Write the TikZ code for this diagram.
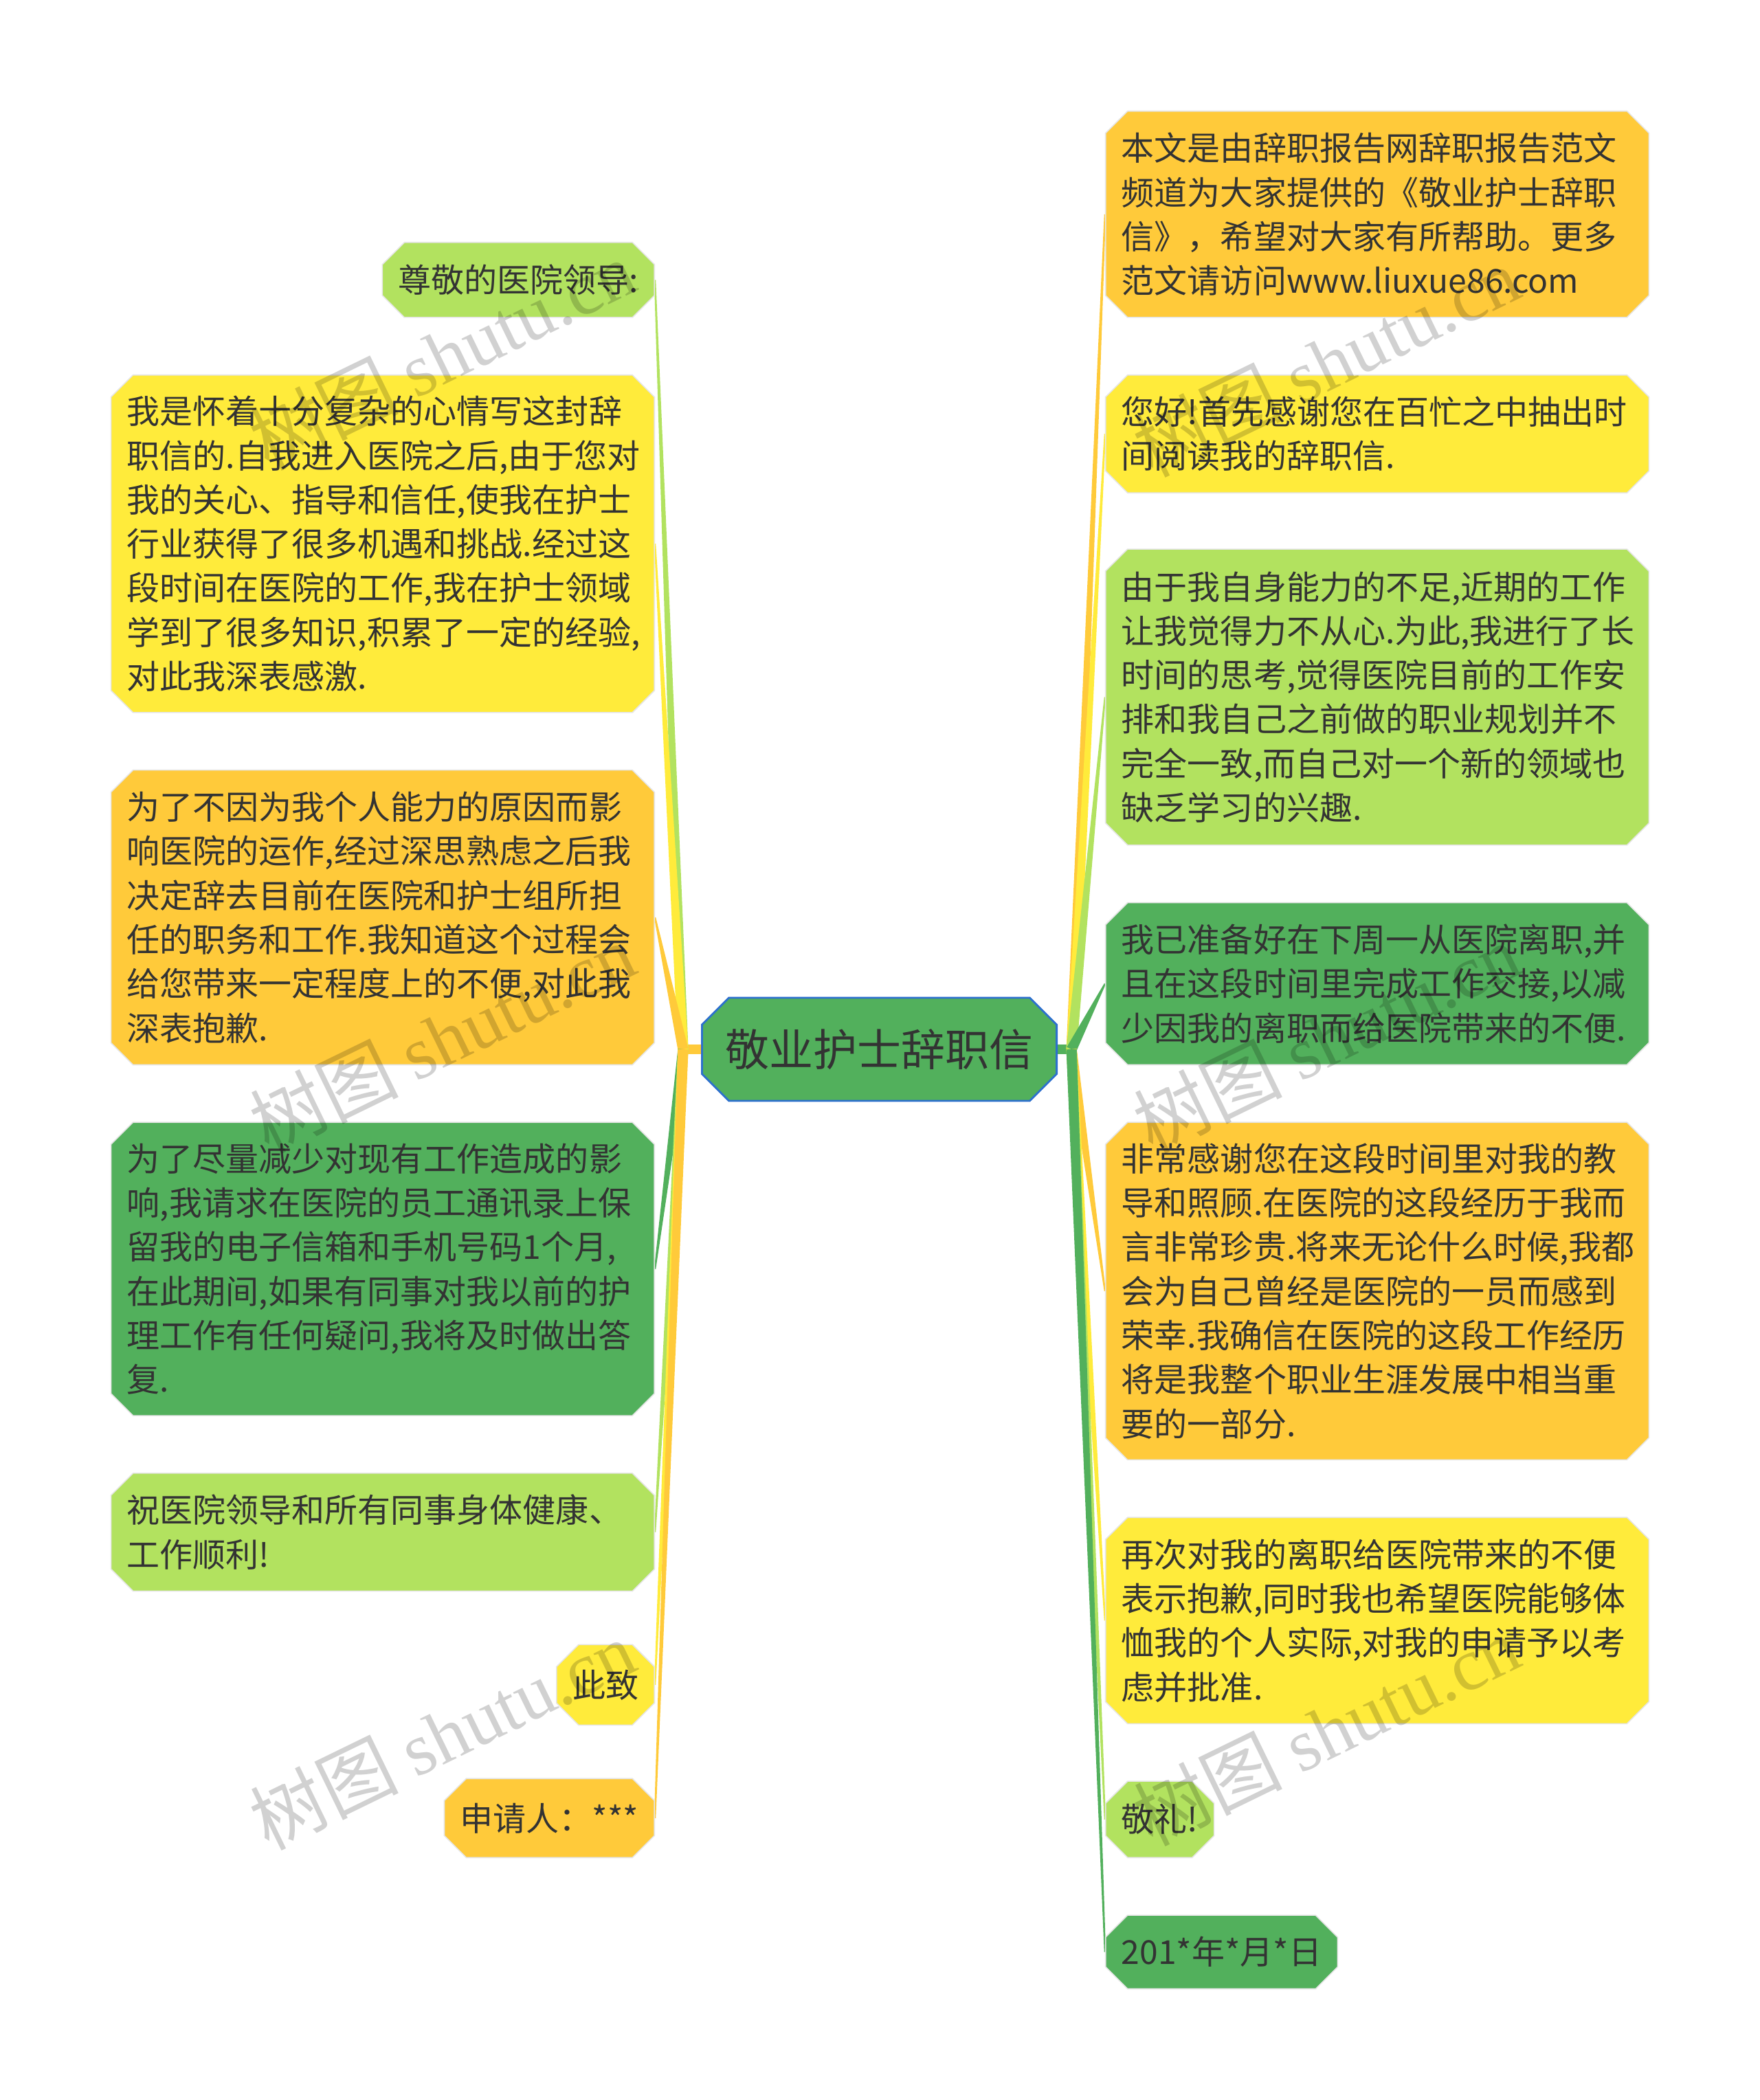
\documentclass[tikz,border=0pt]{standalone}
\usepackage{fontspec}
\setmainfont{Noto Sans CJK SC}
\newfontfamily\wmserif{Liberation Serif}
\usetikzlibrary{shapes.misc, calc, backgrounds}
\definecolor{leafgold}{RGB}{255, 202, 58}
\definecolor{leafyellow}{RGB}{255, 235, 59}
\definecolor{leaflime}{RGB}{178, 226, 95}
\definecolor{leafgreen}{RGB}{82, 176, 92}
\definecolor{hubblue}{RGB}{45, 112, 205}
\definecolor{inkgray}{RGB}{51, 51, 51}

% 渐细连线：颜色，起点，终点
\newcommand{\taper}[3]{%
  \fill[#1] ($(#2)!1.9pt!90:(#3)$) -- ($(#3)!0.3pt!-90:(#2)$)
    -- ($(#3)!0.3pt!90:(#2)$) -- ($(#2)!1.9pt!-90:(#3)$) -- cycle;}

\begin{document}
\begin{tikzpicture}[x=0.48706pt, y=-0.48706pt,
  leaf/.style={chamfered rectangle, chamfered rectangle xsep=4pt,
    chamfered rectangle ysep=4pt, draw=black!10, line width=0.4pt,
    text=inkgray, font=\fontsize{12}{16.07}\selectfont,
    inner xsep=1.8pt, inner ysep=2pt, align=left},
  wide/.style={text width=186pt},
  nh/.style={minimum height=#1*0.48706pt},
  hub/.style={chamfered rectangle, chamfered rectangle xsep=4.9pt,
    chamfered rectangle ysep=4.9pt, fill=leafgreen, draw=hubblue,
    line width=0.7pt, text=inkgray, font=\fontsize{16}{19}\selectfont,
    minimum width=129pt, minimum height=37.5pt},
  wmark/.style={rotate=26, text=black, text opacity=0.18,
    font=\fontsize{27}{30}\selectfont}]
  \useasboundingbox (0,0) rectangle (1314,1568);

  % 中心主题
  \node[hub] (hub) at (656.5,783.5) {敬业护士辞职信};
  \coordinate (lroot) at (510,783.5);
  \coordinate (rroot) at (800,783.5);

  % 左侧
  \node[leaf, fill=leaflime, nh=56, anchor=east] (l1) at (489,209) {尊敬的医院领导:};
  \node[leaf, fill=leafyellow, wide, nh=252, anchor=east] (l2) at (489,406)
    {我是怀着十分复杂的心情写这封辞\\职信的.自我进入医院之后,由于您对\\我的关心、指导和信任,使我在护士\\行业获得了很多机遇和挑战.经过这\\段时间在医院的工作,我在护士领域\\学到了很多知识,积累了一定的经验,\\对此我深表感激.};
  \node[leaf, fill=leafgold, wide, nh=220, anchor=east] (l3) at (489,685)
    {为了不因为我个人能力的原因而影\\响医院的运作,经过深思熟虑之后我\\决定辞去目前在医院和护士组所担\\任的职务和工作.我知道这个过程会\\给您带来一定程度上的不便,对此我\\深表抱歉.};
  \node[leaf, fill=leafgreen, wide, nh=219, anchor=east] (l4) at (489,947.5)
    {为了尽量减少对现有工作造成的影\\响,我请求在医院的员工通讯录上保\\留我的电子信箱和手机号码1个月,\\在此期间,如果有同事对我以前的护\\理工作有任何疑问,我将及时做出答\\复.};
  \node[leaf, fill=leaflime, wide, nh=88, anchor=east] (l5) at (489,1144)
    {祝医院领导和所有同事身体健康、\\工作顺利!};
  \node[leaf, fill=leafyellow, nh=60, anchor=east] (l6) at (489,1258) {此致};
  \node[leaf, fill=leafgold, nh=59, anchor=east] (l7) at (489,1357.5) {申请人：***};

  % 右侧
  \node[leaf, fill=leafgold, wide, nh=154, anchor=west] (r1) at (825,160)
    {本文是由辞职报告网辞职报告范文\\频道为大家提供的《敬业护士辞职\\信》，希望对大家有所帮助。更多\\范文请访问www.liuxue86.com};
  \node[leaf, fill=leafyellow, wide, nh=88, anchor=west] (r2) at (825,324)
    {您好!首先感谢您在百忙之中抽出时\\间阅读我的辞职信.};
  \node[leaf, fill=leaflime, wide, nh=221, anchor=west] (r3) at (825,520.5)
    {由于我自身能力的不足,近期的工作\\让我觉得力不从心.为此,我进行了长\\时间的思考,觉得医院目前的工作安\\排和我自己之前做的职业规划并不\\完全一致,而自己对一个新的领域也\\缺乏学习的兴趣.};
  \node[leaf, fill=leafgreen, wide, nh=121, anchor=west] (r4) at (825,734.5)
    {我已准备好在下周一从医院离职,并\\且在这段时间里完成工作交接,以减\\少因我的离职而给医院带来的不便.};
  \node[leaf, fill=leafgold, wide, nh=252, anchor=west] (r5) at (825,964)
    {非常感谢您在这段时间里对我的教\\导和照顾.在医院的这段经历于我而\\言非常珍贵.将来无论什么时候,我都\\会为自己曾经是医院的一员而感到\\荣幸.我确信在医院的这段工作经历\\将是我整个职业生涯发展中相当重\\要的一部分.};
  \node[leaf, fill=leafyellow, wide, nh=154, anchor=west] (r6) at (825,1210)
    {再次对我的离职给医院带来的不便\\表示抱歉,同时我也希望医院能够体\\恤我的个人实际,对我的申请予以考\\虑并批准.};
  \node[leaf, fill=leaflime, nh=57, anchor=west] (r7) at (825,1358.5) {敬礼!};
  \node[leaf, fill=leafgreen, nh=55, anchor=west] (r8) at (825,1457.5) {201*年*月*日};

  % 连线
  \begin{scope}[on background layer]
    \fill[white] (0,0) rectangle (1314,1568);
    \draw[leafgold, line width=3.7pt] (hub.west) -- (lroot);
    \draw[leafgreen, line width=3.7pt] (hub.east) -- (rroot);
    \taper{leaflime}{lroot}{l1.east}
    \taper{leafyellow}{lroot}{l2.east}
    \taper{leafgold}{lroot}{l3.east}
    \taper{leafgreen}{lroot}{l4.east}
    \taper{leaflime}{lroot}{l5.east}
    \taper{leafyellow}{lroot}{l6.east}
    \taper{leafgold}{lroot}{l7.east}
    \taper{leafgold}{rroot}{r1.west}
    \taper{leafyellow}{rroot}{r2.west}
    \taper{leaflime}{rroot}{r3.west}
    \taper{leafgreen}{rroot}{r4.west}
    \taper{leafgold}{rroot}{r5.west}
    \taper{leafyellow}{rroot}{r6.west}
    \taper{leaflime}{rroot}{r7.west}
    \taper{leafgreen}{rroot}{r8.west}
  \end{scope}

  % 水印
  \foreach \wx/\wy [count=\k] in {330/265, 990/270, 330/775, 990/775, 330/1295, 990/1292}
    \node[wmark] (wm\k) at (\wx,\wy) {树图 {\wmserif shutu.cn}};
\end{tikzpicture}
\end{document}
